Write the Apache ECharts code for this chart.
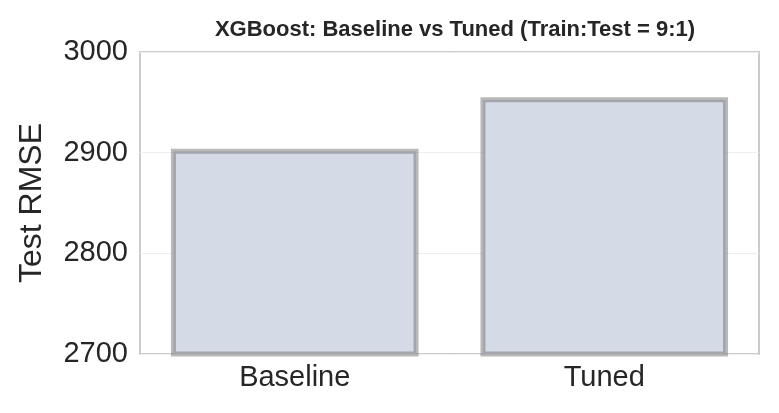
<!DOCTYPE html>
<html><head><meta charset="utf-8">
<script src="https://cdn.jsdelivr.net/npm/echarts@6/dist/echarts.min.js"></script>
<style>html,body{margin:0;padding:0;background:#fff}#c{width:779px;height:413px}</style>
</head><body><div id="c"></div>
<script>
const categories = ["Baseline", "Tuned"];
const rmseValues = [2904, 2955];
const yTicks = [2700, 2800, 2900, 3000];

const chart = echarts.init(document.getElementById('c'));
chart.setOption({
  animation: false,
  title: {
    text: 'XGBoost: Baseline vs Tuned (Train:Test = 9:1)',
    left: 450, top: 14, textAlign: 'center',
    textStyle: {fontFamily: 'Liberation Sans, Arial', fontSize: 22, fontWeight: 'bold', color: '#262626'}
  },
  grid: {left: 140, right: 20, top: 52, bottom: 59, show: true, borderColor: '#cccccc', borderWidth: 2, backgroundColor: 'transparent'},
  xAxis: {
    type: 'category', data: categories,
    axisLine: {show: false}, axisTick: {show: false},
    axisLabel: {fontFamily: 'Liberation Sans, Arial', fontSize: 29, color: '#262626', margin: 9}
  },
  yAxis: {
    type: 'value', min: yTicks[0], max: yTicks[yTicks.length - 1], interval: 100,
    name: 'Test RMSE', nameLocation: 'middle', nameGap: 92,
    nameTextStyle: {fontFamily: 'Liberation Sans, Arial', fontSize: 32, color: '#262626'},
    axisLine: {show: false}, axisTick: {show: false},
    axisLabel: {fontFamily: 'Liberation Sans, Arial', fontSize: 29, color: '#262626', margin: 12, formatter: v => String(v)},
    splitLine: {show: true, lineStyle: {color: '#efefef', width: 1}}
  },
  series: [{
    type: 'bar', data: rmseValues, barCategoryGap: '20%',
    itemStyle: {color: '#d5dbe6', borderColor: 'rgba(100,100,100,0.45)', borderWidth: 5}
  }]
});
</script></body></html>
